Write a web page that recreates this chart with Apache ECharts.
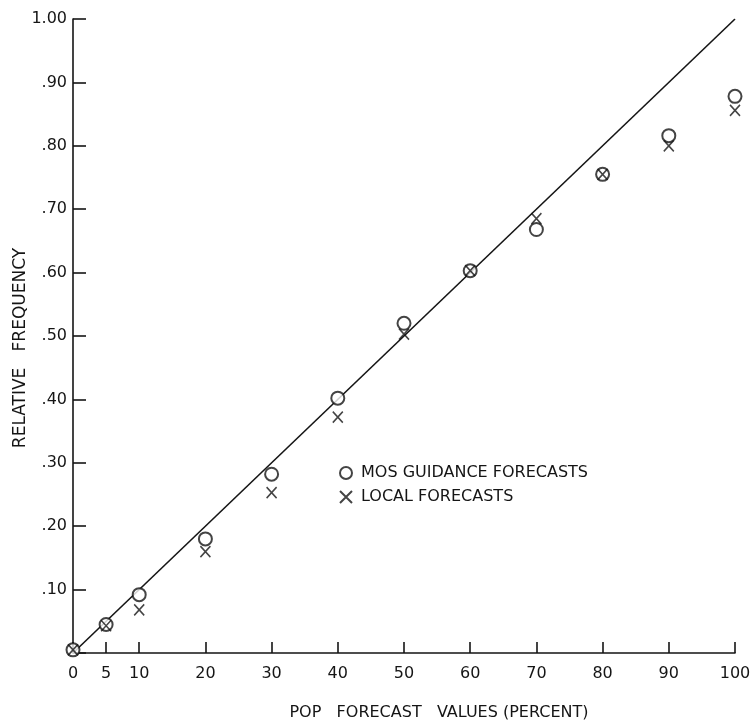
<!DOCTYPE html>
<html>
<head>
<meta charset="utf-8">
<script src="https://cdn.jsdelivr.net/npm/echarts@6/dist/echarts.min.js"></script>
<style>
  html, body { margin: 0; padding: 0; background: #fff; }
  #chart { width: 756px; height: 720px; }
</style>
</head>
<body>
<div id="chart"></div>
<script>
// PoP forecast values (percent)
const popValues = [0, 5, 10, 20, 30, 40, 50, 60, 70, 80, 90, 100]
// observed relative frequency
const mosFreq = [0.005, 0.045, 0.092, 0.18, 0.282, 0.402, 0.52, 0.603, 0.668, 0.755, 0.816, 0.878]
const localFreq = [0.005, 0.043, 0.068, 0.16, 0.253, 0.372, 0.503, 0.603, 0.685, 0.755, 0.80, 0.856]
// perfect reliability line
const perfectX = [0, 100]
const perfectY = [0, 1]
const xTicks = [0, 5, 10, 20, 30, 40, 50, 60, 70, 80, 90, 100]

const ink = '#151515'
const font = 'DejaVu Sans'

const myChart = echarts.init(document.getElementById('chart'))

const option = {
  animation: false,
  backgroundColor: '#fff',
  textStyle: { fontFamily: font, color: ink },
  grid: { left: 73, right: 21, top: 19, bottom: 67, containLabel: false, outerBoundsMode: 'none' },
  legend: {
    orient: 'vertical',
    left: 334,
    top: 460,
    itemGap: 8,
    itemWidth: 12,
    itemHeight: 12,
    textStyle: { fontFamily: font, fontSize: 16, color: ink, padding: [0, 0, 0, 4] },
    data: [
      { name: 'MOS GUIDANCE FORECASTS', icon: 'emptyCircle' },
      { name: 'LOCAL FORECASTS', icon: 'path://M0,0L10,10M10,0L0,10' }
    ]
  },
  xAxis: {
    type: 'value',
    min: 0,
    max: 100,
    name: 'POP   FORECAST   VALUES (PERCENT)',
    nameLocation: 'middle',
    nameGap: 52,
    nameMoveOverlap: false,
    nameTextStyle: { fontFamily: font, fontSize: 16, color: ink, padding: [0, 0, 0, 70] },
    splitLine: { show: false },
    axisLine: { lineStyle: { color: ink, width: 1.6 } },
    axisTick: { inside: true, length: 11, customValues: xTicks, lineStyle: { color: ink, width: 1.6 } },
    axisLabel: { customValues: xTicks, margin: 13, fontSize: 16, color: ink, fontFamily: font }
  },
  yAxis: {
    type: 'value',
    min: 0,
    max: 1,
    interval: 0.1,
    name: 'RELATIVE   FREQUENCY',
    nameLocation: 'middle',
    nameRotate: 90,
    nameGap: 44,
    nameMoveOverlap: false,
    nameTextStyle: { fontFamily: font, fontSize: 17, color: ink, padding: [0, 24, 0, 0] },
    splitLine: { show: false },
    axisLine: { show: true, lineStyle: { color: ink, width: 1.6 } },
    axisTick: { show: true, inside: true, length: 13, lineStyle: { color: ink, width: 1.6 } },
    axisLabel: {
      margin: 6,
      fontSize: 16,
      color: ink,
      fontFamily: font,
      formatter: (v) => {
        if (v === 0) return ''
        if (v >= 1) return '1.00'
        return v.toFixed(2).replace(/^0/, '')
      }
    }
  },
  series: [
    {
      name: 'perfect',
      type: 'line',
      data: perfectX.map((x, i) => [x, perfectY[i]]),
      showSymbol: false,
      silent: true,
      lineStyle: { color: ink, width: 1.6 },
      z: 1
    },
    {
      name: 'MOS GUIDANCE FORECASTS',
      type: 'scatter',
      data: popValues.map((x, i) => [x, mosFreq[i]]),
      symbol: 'emptyCircle',
      symbolSize: 13,
      itemStyle: { color: ink, borderColor: ink, borderWidth: 1.6 },
      z: 3
    },
    {
      name: 'LOCAL FORECASTS',
      type: 'scatter',
      data: popValues.map((x, i) => [x, localFreq[i]]),
      symbol: 'path://M0,0L10,10M10,0L0,10',
      symbolSize: [10, 11],
      itemStyle: { color: 'transparent', borderColor: ink, borderWidth: 1.6 },
      z: 3
    }
  ]
}

myChart.setOption(option, true)

window.addEventListener('resize', () => {
  myChart.resize()
})
</script>
</body>
</html>
